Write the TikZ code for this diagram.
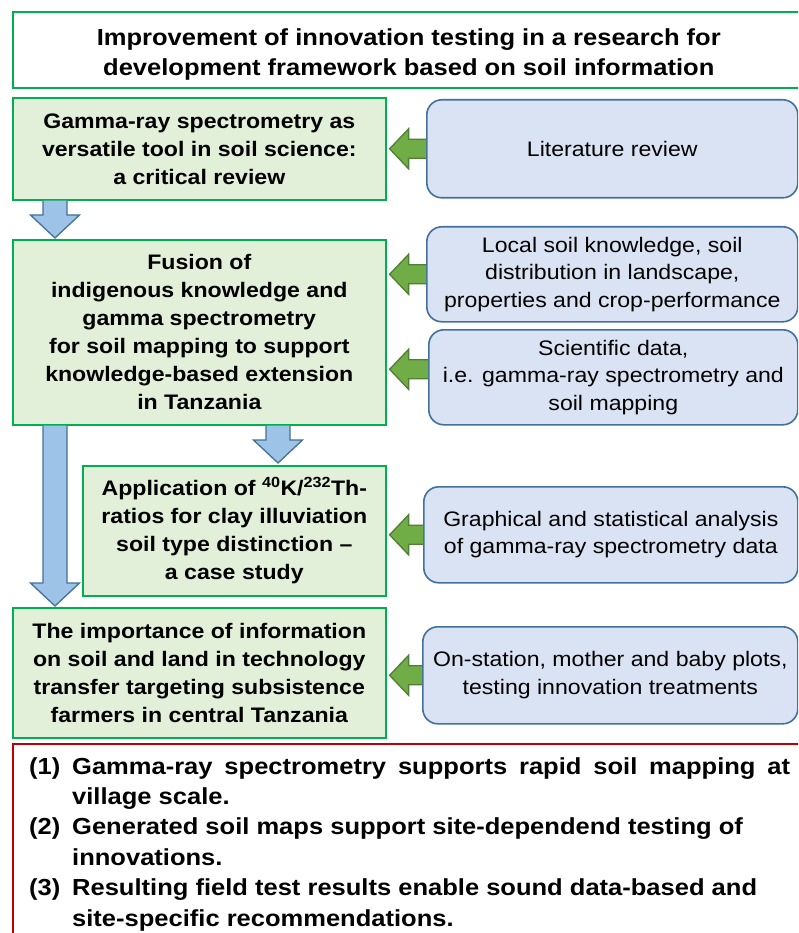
\documentclass[tikz,border=0pt]{standalone}
\usepackage{fontspec}
\setmainfont{Liberation Sans}[FakeStretch=1.1]
\usepackage{tikz}
\usetikzlibrary{calc}

\definecolor{boxgreen}{HTML}{00B050}
\definecolor{fillgreen}{HTML}{E2EFD9}
\definecolor{boxblue}{HTML}{41719C}
\definecolor{fillblue}{HTML}{DAE3F3}
\definecolor{arrblue}{HTML}{9DC3E6}
\definecolor{arrgreen}{HTML}{70AD47}
\definecolor{arrgreenline}{HTML}{507E32}
\definecolor{boxred}{HTML}{C00000}

% block arrow pointing down: #1 top of shaft, #2 tip
\newcommand{\downarr}[2]{%
\draw[line width=1.3pt, draw=boxblue, fill=arrblue] let \p1=(#1), \p2=(#2) in
  (\x1-12pt,\y1) -- (\x1-12pt,\y2+23pt) -- (\x1-24.5pt,\y2+23pt) -- (\x1,\y2)
  -- (\x1+24.5pt,\y2+23pt) -- (\x1+12pt,\y2+23pt) -- (\x1+12pt,\y1);}
% block arrow pointing left: #1 tail, #2 box it points at
\newcommand{\leftarr}[2]{%
\draw[line width=1.3pt, draw=arrgreenline, fill=arrgreen] let \p1=(#1), \p2=(#2) in
  (\x1,\y1+9.5pt) -- (\x2+22pt,\y1+9.5pt) -- (\x2+22pt,\y1+20pt) -- (\x2+3pt,\y1)
  -- (\x2+22pt,\y1-20pt) -- (\x2+22pt,\y1-9.5pt) -- (\x1,\y1-9.5pt);}

\begin{document}
\begin{tikzpicture}[x=1pt, y=-1pt,
  gbox/.style={draw=boxgreen, fill=fillgreen, line width=1.6pt, anchor=north west,
    align=center, inner sep=0pt, font=\bfseries\fontsize{21}{28}\selectfont},
  bbox/.style={draw=boxblue, fill=fillblue, line width=1.6pt, rounded corners=15pt,
    anchor=north west, align=center, inner sep=0pt, font=\fontsize{21}{27.5}\selectfont}]
\useasboundingbox (0,0) rectangle (798,933);
\clip (0,0) rectangle (798,933);

\node[gbox, fill=white, minimum width=792pt, minimum height=76pt,
  font=\bfseries\fontsize{23.2}{30}\selectfont] (title) at (12,11)
  {\rule{0pt}{27pt}Improvement of innovation testing in a research for\\development framework based on soil information};

% left column
\node[gbox, minimum width=373pt, minimum height=102pt] (g1) at (12,97)
  {Gamma-ray spectrometry as\\versatile tool in soil science:\\a critical review};
\node[gbox, minimum width=373pt, minimum height=185pt] (g2) at (12,239)
  {Fusion of\\indigenous knowledge and\\gamma spectrometry\\for soil mapping to support\\knowledge-based extension\\in Tanzania};
\node[gbox, minimum width=303pt, minimum height=130pt] (g3) at (82,465)
  {Application of \textsuperscript{40}K/\textsuperscript{232}Th-\\ratios for clay illuviation\\soil type distinction --\\a case study};
\node[gbox, minimum width=373pt, minimum height=130pt] (g4) at (12,607)
  {The importance of information\\on soil and land in technology\\transfer targeting subsistence\\farmers in central Tanzania};

% right column
\node[bbox, minimum width=371pt, minimum height=98pt] (r1) at (426,99) {Literature review};
\node[bbox, minimum width=371pt, minimum height=95pt] (r2) at (426,226)
  {Local soil knowledge, soil\\distribution in landscape,\\properties and crop-performance};
\node[bbox, minimum width=369pt, minimum height=95pt] (r3) at (428,329)
  {Scientific data,\\i.e. gamma-ray spectrometry and\\soil mapping};
\node[bbox, minimum width=374pt, minimum height=96pt] (r4) at (423,486)
  {Graphical and statistical analysis\\of gamma-ray spectrometry data};
\node[bbox, minimum width=375pt, minimum height=97pt] (r5) at (422,626)
  {On-station, mother and baby plots,\\testing innovation treatments};

% arrows
\downarr{$(g1.south west)+(43,0)$}{$(g2.north west)+(43,-1)$}
\downarr{$(g2.south west)+(43,0)$}{$(g4.north west)+(43,-1)$}
\downarr{$(g2.south west)+(266,0)$}{$(g3.north west)+(196,-2)$}
\leftarr{r1.west}{g1.east}
\leftarr{r2.west}{g2.east}
\leftarr{[yshift=8pt]r3.west}{g2.east}
\leftarr{r4.west}{g3.east}
\leftarr{r5.west}{g4.east}

% conclusions
\node[draw=boxred, line width=1.6pt, anchor=north west, minimum width=800pt,
  minimum height=230pt] (res) at (12,743) {};
\node[anchor=north west, align=left, inner sep=0pt,
  font=\bfseries\fontsize{23.2}{30.4}\selectfont] (list) at (29,757)
  {\makebox[43pt][l]{(1)}\makebox[718pt][s]{Gamma-ray spectrometry supports rapid soil mapping at}\\
   \hspace*{43pt}village scale.\\
   \makebox[43pt][l]{(2)}Generated soil maps support site-dependend testing of\\
   \hspace*{43pt}innovations.\\
   \makebox[43pt][l]{(3)}Resulting field test results enable sound data-based and\\
   \hspace*{43pt}site-specific recommendations.};
\end{tikzpicture}
\end{document}
